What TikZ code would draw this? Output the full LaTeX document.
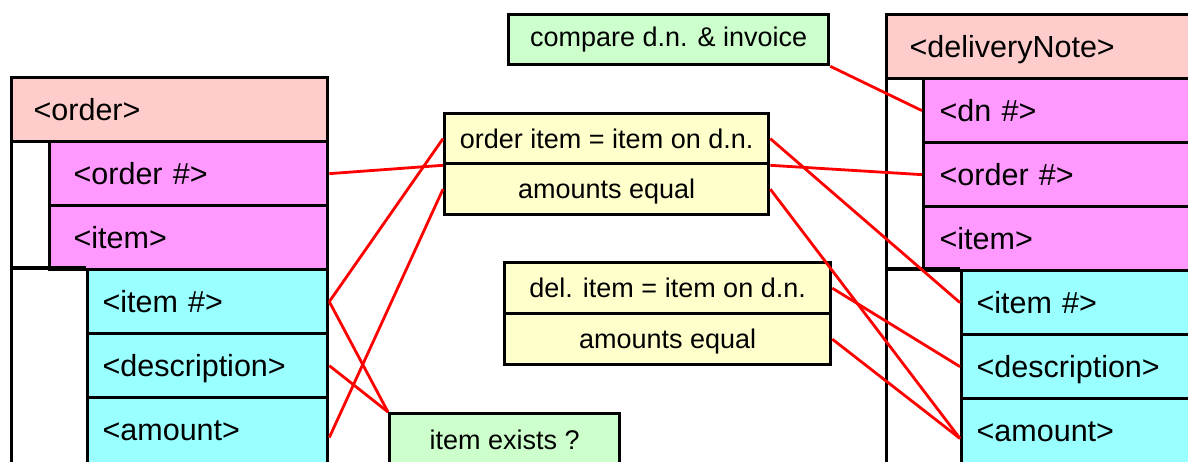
\documentclass[tikz,border=0pt]{standalone}
\usepackage{fontspec}
\setmainfont{Liberation Sans}
\definecolor{hdrPink}{HTML}{FFCCCC}
\definecolor{rowMagenta}{HTML}{FF99FF}
\definecolor{rowCyan}{HTML}{99FFFF}
\definecolor{chkYellow}{HTML}{FFFFCC}
\definecolor{chkGreen}{HTML}{CCFFCC}

\begin{document}
\begin{tikzpicture}[x=1pt, y=-1pt,
    elem/.style={draw, line width=3.3pt, anchor=north west, inner ysep=0pt, minimum height=64pt,
                 align=left, text height=22pt, text depth=1pt, font=\fontsize{30.5}{36}\selectfont},
    hdr/.style={elem, fill=hdrPink},
    mag/.style={elem, fill=rowMagenta},
    cyn/.style={elem, fill=rowCyan},
    lastrow/.style={minimum height=90pt, text depth=27pt},
    chk/.style={draw, line width=3.3pt, anchor=north west, inner sep=0pt, align=center,
                text height=19.5pt, text depth=0pt, font=\fontsize{27}{32}\selectfont},
    link/.style={red, line width=2.8pt}]
    \useasboundingbox (0,0) rectangle (1188,461);
    \clip (0,0) rectangle (1188,461);
    \fill[white] (0,0) rectangle (1188,461);
    % =========================
    % order
    \node[elem, fill=white, minimum width=316pt, minimum height=420pt] (Lframe) at (10,76) {};
    \node[hdr, text width=272pt, inner xsep=22pt] (Lorder) at (10,76) {<order>};
    \node[mag, text width=230pt, inner xsep=24pt] (Lordno) at (48,140) {<order \#>};
    \node[mag, text width=230pt, inner xsep=24pt] (Litem) at (48,204) {<item>};
    \node[cyn, text width=210pt, inner xsep=15pt] (Litemno) at (86,268) {<item \#>};
    \node[cyn, text width=210pt, inner xsep=15pt] (Ldesc) at (86,332) {<description>};
    \node[cyn, lastrow, text width=210pt, inner xsep=15pt] (Lamt) at (86,396) {<amount>};
    \draw[line width=3.3pt] (Lframe.west |- Litemno.north) -- (Litemno.north west);
    % =========================
    % deliveryNote
    \node[elem, fill=white, minimum width=330pt, minimum height=470pt] (Rframe) at (885,13) {};
    \node[hdr, text width=284pt, inner xsep=23pt] (Rdn) at (885,13) {<deliveryNote>};
    \node[mag, text width=261pt, inner xsep=16pt] (Rdnno) at (922,77) {<dn \#>};
    \node[mag, text width=261pt, inner xsep=16pt] (Rordno) at (922,141) {<order \#>};
    \node[mag, text width=261pt, inner xsep=16pt] (Ritem) at (922,205) {<item>};
    \node[cyn, text width=225pt, inner xsep=15pt] (Ritemno) at (960,269) {<item \#>};
    \node[cyn, text width=225pt, inner xsep=15pt] (Rdesc) at (960,333) {<description>};
    \node[cyn, lastrow, text width=225pt, inner xsep=15pt] (Ramt) at (960,397) {<amount>};
    \draw[line width=3.3pt] (Rframe.west |- Ritemno.north) -- (Ritemno.north west);
    % =========================
    % checks
    \node[chk, fill=chkGreen, minimum width=320pt, minimum height=50pt, text depth=5.5pt] (Ccompare) at (507,13) {compare d.n. \& invoice};
    \node[chk, fill=chkYellow, minimum width=324pt, minimum height=50pt] (Cord) at (443,112) {order item = item on d.n.};
    \node[chk, fill=chkYellow, minimum width=324pt, minimum height=51pt] (Cordamt) at (443,162) {amounts equal};
    \node[chk, fill=chkYellow, minimum width=326pt, minimum height=51pt] (Cdel) at (503,261) {del. item = item on d.n.};
    \node[chk, fill=chkYellow, minimum width=326pt, minimum height=51pt] (Cdelamt) at (503,312) {amounts equal};
    \node[chk, fill=chkGreen, minimum width=230pt, minimum height=52pt] (Cexists) at (388,412) {item exists ?};
    % =========================
    % links
    \draw[link] (Lordno.east) -- (Cord.south west);
    \draw[link] (Cord.south east) -- (Rordno.west);
    \draw[link] (Litemno.east) -- (Cord.west);
    \draw[link] (Litemno.east) -- (Cexists.north west);
    \draw[link] (Ldesc.east) -- (Cexists.north west);
    \draw[link] (Lamt.mid east) -- (Cordamt.west);
    \draw[link] (Cord.east) -- (Ritemno.west);
    \draw[link] (Cordamt.east) -- (Ramt.mid west);
    \draw[link] (Cdel.east) -- (Rdesc.west);
    \draw[link] (Cdelamt.east) -- (Ramt.mid west);
    \draw[link] (Ccompare.south east) -- (Rdnno.west);
\end{tikzpicture}
\end{document}
